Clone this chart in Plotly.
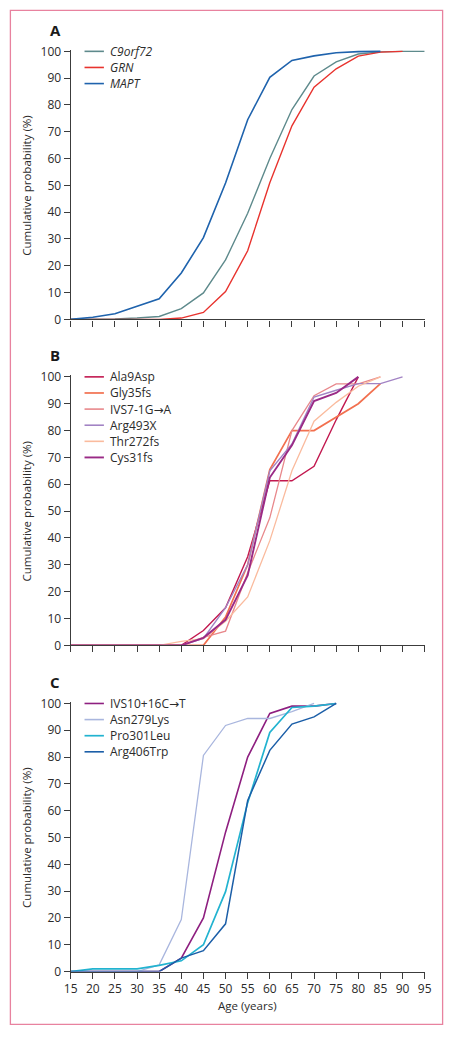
import plotly.graph_objects as go

W, H = 453, 1037

# ---------------- Data ----------------
ages = [15, 20, 25, 30, 35, 40, 45, 50, 55, 60, 65, 70, 75, 80, 85, 90, 95]

# Panel A (gene)
a_names = ["C9orf72", "GRN", "MAPT"]
c9orf72 = [0, 0, 0.2, 0.5, 1.1, 4.0, 9.9, 22.2, 39.6, 60.0, 78.3, 90.8, 96.1, 99.0, 99.8, 100, 100]
grn = [0, 0, 0, 0, 0, 0.5, 2.6, 10.4, 25.6, 51.0, 72.2, 86.6, 93.5, 98.2, 99.7, 100]
mapt = [0, 0.8, 2.1, 5.0, 7.7, 17.3, 30.5, 50.9, 74.5, 90.3, 96.6, 98.3, 99.5, 99.9, 100]

# Panel B (GRN mutations)
b_names = ["Ala9Asp", "Gly35fs", "IVS7-1G→A", "Arg493X", "Thr272fs", "Cys31fs"]
ala9asp = [0, 0, 0, 0, 0, 0, 5.5, 14, 33, 61.3, 61.3, 66.7, 84, 100]
gly35fs = [0, 0, 0, 0, 0, 0, 0, 10.5, 30, 65.5, 80, 80, 85, 90, 97.5]
ivs7 = [0, 0, 0, 0, 0, 0, 3, 5.3, 27, 47.5, 80, 93, 97.4, 97.4, 100]
arg493x = [0, 0, 0, 0, 0, 0, 2.6, 14, 30, 65, 75, 92.5, 95, 97.5, 97.5, 100]
thr272fs = [0, 0, 0, 0, 0, 1.5, 2.5, 9, 18, 39, 65, 83.5, 90.5, 96.5, 100]
cys31fs = [0, 0, 0, 0, 0, 0, 2.8, 9.5, 26, 62.5, 74.5, 91, 94, 100]

# Panel C (MAPT mutations)
c_names = ["IVS10+16C→T", "Asn279Lys", "Pro301Leu", "Arg406Trp"]
ivs10 = [0, 0, 0, 0, 0, 5, 20, 52, 80, 96.3, 99, 99, 100]
asn279lys = [0, 0, 0, 0, 2.5, 19.4, 80.6, 91.8, 94.4, 94.4, 97, 100]
pro301leu = [0, 1, 1, 1, 2.3, 4, 10, 29.8, 63, 89.2, 98.5, 99, 100]
arg406trp = [0, 0, 0, 0, 0, 5, 7.8, 17.8, 63.8, 82.5, 92.3, 95, 100]

y_ticks = list(range(0, 101, 10))
x_ticks = ages

# ---------------- Styles ----------------
FONT = "Open Sans"
TXT = "#2b2b2b"
AX = "#3c3c3c"

panels = [
    dict(label="A", names=a_names, series=[c9orf72, grn, mapt],
         colors=["#5e8a8c", "#e8332e", "#1f63ad"], widths=[1.4, 1.4, 1.6],
         italic=True, top=45.0, bottom=317.0),
    dict(label="B", names=b_names, series=[ala9asp, gly35fs, ivs7, arg493x, thr272fs, cys31fs],
         colors=["#c2184f", "#f2704f", "#e8888c", "#a283c4", "#fabb9e", "#9a2a86"],
         widths=[1.4, 1.7, 1.3, 1.4, 1.3, 1.9],
         italic=False, top=375.3, bottom=647.7),
    dict(label="C", names=c_names, series=[ivs10, asn279lys, pro301leu, arg406trp],
         colors=["#8e1f80", "#a9b6de", "#22b3d0", "#1c5fa8"], widths=[1.6, 1.3, 1.7, 1.5],
         italic=False, top=706.7, bottom=978.7),
]

x_left_px, x_right_px = 65.7, 431.0
YMAX = 100.6
ARROW = "<span style='font-family:DejaVu Sans'>→</span>"

fig = go.Figure()
layout = dict(width=W, height=H, margin=dict(l=0, r=0, t=0, b=0),
              paper_bgcolor="white", plot_bgcolor="white", showlegend=False,
              font=dict(family=FONT, color=TXT, size=12))
annotations = []
shapes = []

for i, p in enumerate(panels):
    n = "" if i == 0 else str(i + 1)
    xa, ya = "x" + n, "y" + n
    unit = (p["bottom"] - p["top"]) / 100.0
    top_px = p["top"] - (YMAX - 100) * unit
    for name, vals, col, w in zip(p["names"], p["series"], p["colors"], p["widths"]):
        fig.add_trace(go.Scatter(x=ages[:len(vals)], y=vals, mode="lines", name=name,
                                 line=dict(color=col, width=w), xaxis=xa, yaxis=ya,
                                 hoverinfo="x+y+name"))
    layout["xaxis" + n] = dict(domain=[x_left_px / W, x_right_px / W], range=[15, 95],
                               anchor=ya, tickvals=x_ticks, showticklabels=(i == 2),
                               ticks="outside", ticklen=6, tickwidth=1.3, tickcolor=AX,
                               showline=True, linecolor=AX, linewidth=1.3,
                               showgrid=False, zeroline=False,
                               tickfont=dict(size=12, color=TXT, family=FONT))
    layout["yaxis" + n] = dict(domain=[1 - p["bottom"] / H, 1 - top_px / H], range=[0, YMAX],
                               anchor=xa, tickvals=y_ticks,
                               ticks="outside", ticklen=6, tickwidth=1.3, tickcolor=AX,
                               showline=True, linecolor=AX, linewidth=1.3,
                               showgrid=False, zeroline=False,
                               tickfont=dict(size=12, color=TXT, family=FONT))
    # panel label
    annotations.append(dict(text="<b>%s</b>" % p["label"], x=50 / W, y=1 - (p["top"] - 22) / H,
                            xref="paper", yref="paper", showarrow=False,
                            xanchor="center", yanchor="middle",
                            font=dict(size=15, color="#1a1a1a", family=FONT)))
    # y title
    annotations.append(dict(text="Cumulative probability (%)", x=20 / W,
                            y=1 - ((p["top"] + p["bottom"]) / 2) / H,
                            xref="paper", yref="paper", showarrow=False, textangle=-90,
                            xanchor="center", yanchor="middle",
                            font=dict(size=11.5, color=TXT, family=FONT)))
    # legend (manual)
    for k, (name, col, w) in enumerate(zip(p["names"], p["colors"], p["widths"])):
        ry = p["top"] + k * 16.35
        shapes.append(dict(type="line", xref="paper", yref="paper",
                           x0=80 / W, x1=100 / W, y0=1 - ry / H, y1=1 - ry / H,
                           line=dict(color=col, width=max(w, 1.6))))
        label = "<i>%s</i>" % name if p["italic"] else name.replace("→", ARROW)
        annotations.append(dict(text=label, x=104 / W, y=1 - ry / H, xref="paper", yref="paper",
                                showarrow=False, xanchor="left", yanchor="middle",
                                font=dict(size=12, color=TXT, family=FONT)))

# x title
annotations.append(dict(text="Age (years)", x=((x_left_px + x_right_px) / 2) / W, y=1 - 1013.3 / H,
                        xref="paper", yref="paper", showarrow=False,
                        xanchor="center", yanchor="middle",
                        font=dict(size=11.5, color=TXT, family=FONT)))
# border
shapes.append(dict(type="rect", xref="paper", yref="paper",
                   x0=3.5 / W, x1=449.5 / W, y0=1 - 1032.3 / H, y1=1 - 3.5 / H,
                   line=dict(color="#e8829f", width=1.3), layer="below"))

layout["annotations"] = annotations
layout["shapes"] = shapes
fig.update_layout(**layout)
fig.write_html("out.html",
               config={"displayModeBar": False},
               post_script="document.documentElement.style.margin='0';"
                           "document.body.style.margin='0';"
                           "document.documentElement.style.overflow='hidden';"
                           "document.body.style.overflow='hidden';")
